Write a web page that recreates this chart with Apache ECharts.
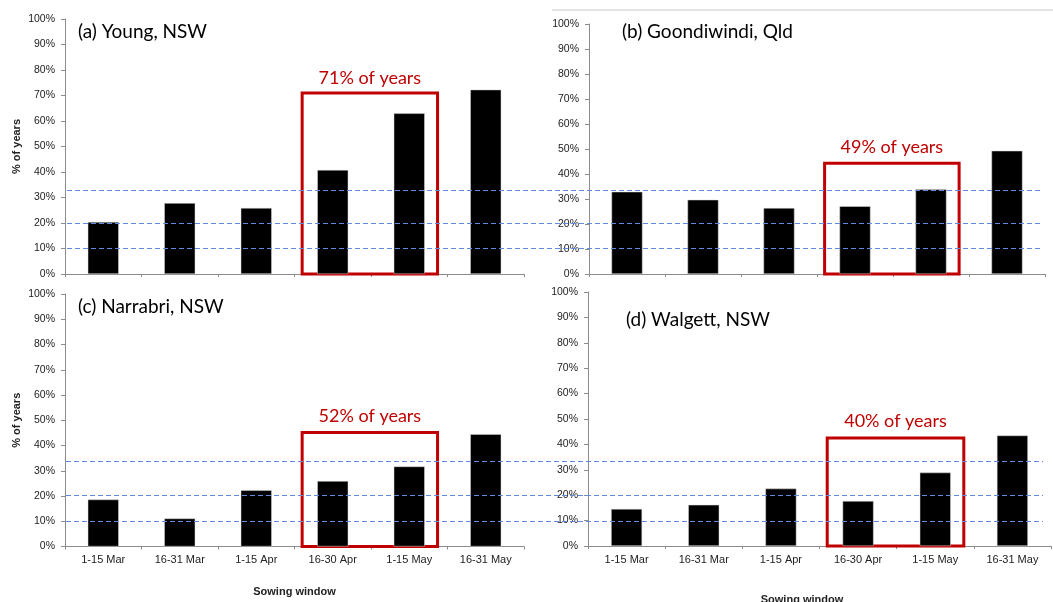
<!DOCTYPE html>
<html>
<head>
<meta charset="utf-8">
<script src="https://cdn.jsdelivr.net/npm/echarts@6/dist/echarts.min.js"></script>
<style>
  html, body { margin: 0; padding: 0; background: #fff; }
  #chart { width: 1053px; height: 602px; }
</style>
</head>
<body>
<div id="chart"></div>
<script>
const categories = ['1-15 Mar', '16-31 Mar', '1-15 Apr', '16-30 Apr', '1-15 May', '16-31 May']
const young = [20.4, 27.8, 25.9, 40.8, 63.0, 72.3]
const goondiwindi = [32.9, 29.7, 26.4, 27.1, 33.9, 49.3]
const narrabri = [18.6, 11.1, 22.3, 25.9, 31.7, 44.5]
const walgett = [14.6, 16.2, 22.6, 17.7, 28.9, 43.5]
const panelTitles = ['(a) Young, NSW', '(b) Goondiwindi, Qld', '(c) Narrabri, NSW', '(d) Walgett, NSW']
const boxLabels = ['71% of years', '49% of years', '52% of years', '40% of years']
const boxTops = [71, 44.3, 45.1, 42.5]
const boxSpan = [3.1, 4.87]
const refLines = [10, 20, 33.3]
const yTicks = [0, 10, 20, 30, 40, 50, 60, 70, 80, 90, 100]

const panelData = [young, goondiwindi, narrabri, walgett]
const axisColor = '#8c8c8c'
const labelColor = '#222'
const boxColor = '#c00000'
const lineBlue = '#5f8ce0'

const grids = [
  { left: 65, top: 19, width: 459, height: 255 },
  { left: 589, top: 24, width: 456, height: 250 },
  { left: 65, top: 294, width: 459, height: 252.5 },
  { left: 588, top: 292, width: 463, height: 254 },
  // hidden grids that carry the dashed reference lines across each row
  { left: 67, top: 23.5, width: 975, height: 250 },
  { left: 66, top: 287.5, width: 977, height: 260 }
].map(g => Object.assign({ outerBoundsMode: 'none', containLabel: false }, g))

const xAxes = []
const yAxes = []
const series = []

for (let i = 0; i < 4; i++) {
  const bottomRow = i >= 2
  xAxes.push({
    type: 'category',
    gridIndex: i,
    data: categories,
    axisLine: { show: true, lineStyle: { color: axisColor, width: 1 } },
    axisTick: { show: true, length: 3, lineStyle: { color: axisColor } },
    axisLabel: {
      show: bottomRow,
      color: labelColor,
      fontFamily: 'Liberation Sans',
      fontSize: 11,
      margin: 8
    },
    name: bottomRow ? 'Sowing window' : '',
    nameLocation: 'middle',
    nameGap: i === 3 ? 48 : 40,
    nameTextStyle: {
      fontFamily: 'Liberation Sans',
      fontWeight: 'bold',
      fontSize: 11,
      color: labelColor,
      padding: i === 3 ? [0, 35, 0, 0] : 0
    }
  })
  yAxes.push({
    type: 'value',
    gridIndex: i,
    min: 0,
    max: 100,
    interval: 10,
    axisLine: { show: true, lineStyle: { color: axisColor, width: 1 } },
    axisTick: { show: true, inside: false, length: 4, lineStyle: { color: axisColor } },
    splitLine: { show: false },
    axisLabel: {
      color: labelColor,
      fontFamily: 'Liberation Sans',
      fontSize: 10.5,
      margin: 10,
      formatter: v => (yTicks.indexOf(v) >= 0 ? v + '%' : '')
    },
    name: (i === 0 || i === 2) ? '% of years' : '',
    nameLocation: 'middle',
    nameGap: 43,
    nameRotate: 90,
    nameTextStyle: {
      fontFamily: 'Liberation Sans',
      fontWeight: 'bold',
      fontSize: 11,
      color: labelColor
    }
  })
}

// hidden value x axes used to place the red boxes
for (let i = 0; i < 4; i++) {
  xAxes.push({ type: 'value', gridIndex: i, min: 0, max: 6, show: false })
}
// hidden axes for the reference-line grids
for (let r = 0; r < 2; r++) {
  xAxes.push({ type: 'value', gridIndex: 4 + r, min: 0, max: 1, show: false })
  yAxes.push({ type: 'value', gridIndex: 4 + r, min: 0, max: 100, show: false })
}

for (let i = 0; i < 4; i++) {
  series.push({
    type: 'bar',
    xAxisIndex: i,
    yAxisIndex: i,
    data: panelData[i],
    barWidth: 31,
    itemStyle: { color: '#000', borderColor: '#d9d9d9', borderWidth: 0.5 },
    z: 2
  })
  series.push({
    type: 'line',
    xAxisIndex: 4 + i,
    yAxisIndex: i,
    data: [],
    z: 5,
    markArea: {
      silent: true,
      itemStyle: { color: 'rgba(0,0,0,0)', borderColor: boxColor, borderWidth: 3 },
      label: {
        show: true,
        position: 'top',
        distance: i === 0 ? 4 : 6,
        color: boxColor,
        fontFamily: 'Lato',
        fontSize: 18
      },
      data: [[
        { name: boxLabels[i], coord: [boxSpan[0], 0] },
        { coord: [boxSpan[1], boxTops[i]] }
      ]]
    }
  })
}

for (let r = 0; r < 2; r++) {
  series.push({
    type: 'line',
    xAxisIndex: 8 + r,
    yAxisIndex: 4 + r,
    data: [],
    z: 10,
    markLine: {
      silent: true,
      symbol: 'none',
      label: { show: false },
      lineStyle: { color: lineBlue, width: 1, type: [5, 3] },
      data: refLines.map(v => ({ yAxis: v }))
    }
  })
}

const titlePos = [
  { left: 78, top: 22 },
  { left: 622, top: 22 },
  { left: 78, top: 297 },
  { left: 626, top: 310 }
]

const chart = echarts.init(document.getElementById('chart'))
chart.setOption({
  backgroundColor: '#fff',
  animation: false,
  title: panelTitles.map((t, i) => ({
    text: t,
    left: titlePos[i].left,
    top: titlePos[i].top,
    padding: 0,
    textStyle: {
      fontFamily: 'Lato',
      fontWeight: 'normal',
      fontSize: 19,
      color: '#000'
    }
  })),
  graphic: [{
    type: 'line',
    shape: { x1: 552, y1: 10, x2: 1053, y2: 10 },
    style: { stroke: '#c8c8c8', lineWidth: 1 }
  }],
  grid: grids,
  xAxis: xAxes,
  yAxis: yAxes,
  series: series
})
</script>
</body>
</html>
